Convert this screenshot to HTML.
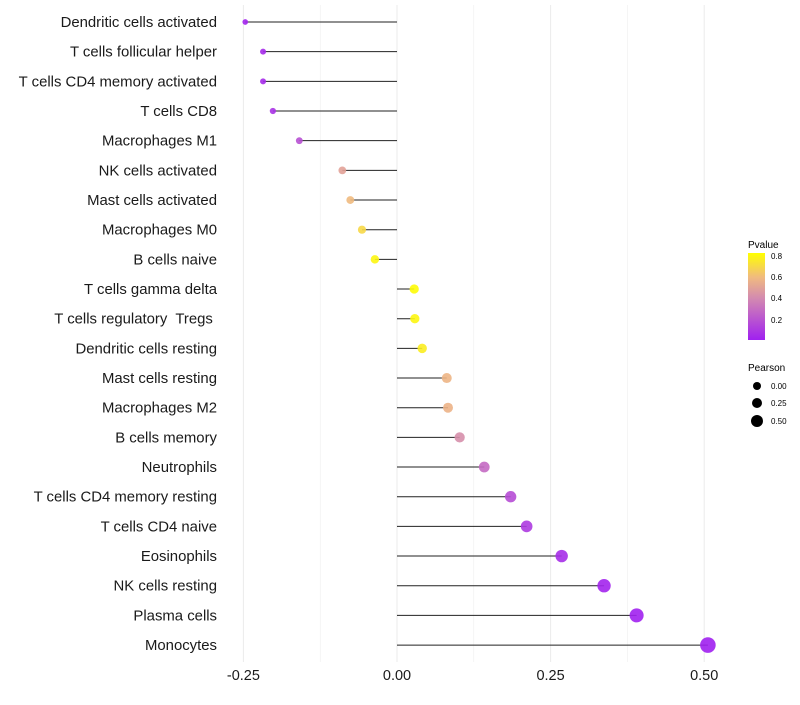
<!DOCTYPE html>
<html><head><meta charset="utf-8"><style>
body{margin:0;background:#fff;font-family:"Liberation Sans",sans-serif;}
text{white-space:pre;}
</style></head><body>
<svg id="chart" width="800" height="700" xmlns="http://www.w3.org/2000/svg" font-family="Liberation Sans, sans-serif">
<defs><linearGradient id="pg" x1="0" y1="1" x2="0" y2="0">
<stop offset="0" stop-color="#A020F0"/><stop offset="0.48" stop-color="#D38AB0"/><stop offset="0.72" stop-color="#F0BA80"/><stop offset="1" stop-color="#FFFF00"/></linearGradient></defs>
<g id="grid"></g><g id="marks"></g><g id="labels"></g>
<g>
<text x="748" y="248" font-size="10">Pvalue</text>
<rect x="748" y="253" width="17" height="87" fill="url(#pg)"/>
<text x="771" y="259" font-size="8">0.8</text><text x="771" y="280" font-size="8">0.6</text>
<text x="771" y="301" font-size="8">0.4</text><text x="771" y="323" font-size="8">0.2</text>
</g>
<g>
<text x="748" y="371" font-size="10">Pearson</text>
<circle cx="757" cy="386" r="4"/><text x="771" y="389" font-size="8">0.00</text>
<circle cx="757" cy="403" r="5"/><text x="771" y="406" font-size="8">0.25</text>
<circle cx="757" cy="421" r="6"/><text x="771" y="424" font-size="8">0.50</text>
</g>
</svg>
<script>
const cells=["Dendritic cells activated","T cells follicular helper","T cells CD4 memory activated","T cells CD8","Macrophages M1","NK cells activated","Mast cells activated","Macrophages M0","B cells naive","T cells gamma delta","T cells regulatory  Tregs ","Dendritic cells resting","Mast cells resting","Macrophages M2","B cells memory","Neutrophils","T cells CD4 memory resting","T cells CD4 naive","Eosinophils","NK cells resting","Plasma cells","Monocytes"];
const pearson=[-0.247,-0.218,-0.218,-0.202,-0.159,-0.089,-0.076,-0.057,-0.036,0.028,0.029,0.041,0.081,0.083,0.102,0.142,0.185,0.211,0.268,0.337,0.390,0.506];
const pvalue=[0.02,0.04,0.04,0.07,0.18,0.5,0.6,0.7,0.8,0.82,0.8,0.77,0.58,0.57,0.42,0.28,0.17,0.1,0.05,0.02,0.005,0.001];
const xTicks=[-0.25,0,0.25,0.5];
const xTickLabels=["-0.25","0.00","0.25","0.50"];
const NS="http://www.w3.org/2000/svg";
const X=v=>397+v*614.4;
const Y=i=>22+i*29.67;
const R=v=>2.8+(v+0.25)*6.6;
const stops=[[0,[160,32,240]],[0.4,[211,138,176]],[0.6,[240,186,128]],[0.83,[255,255,0]]];
function col(p){p=Math.max(0,Math.min(0.83,p));for(let i=1;i<stops.length;i++){if(p<=stops[i][0]){const a=stops[i-1],b=stops[i],t=(p-a[0])/(b[0]-a[0]);return "rgb("+a[1].map((c,k)=>Math.round(c+(b[1][k]-c)*t)).join(",")+")";}}return "rgb(255,255,0)";}
function mk(t,a,p){const e=document.createElementNS(NS,t);for(const k in a)e.setAttribute(k,a[k]);p.appendChild(e);return e;}
const grid=document.getElementById('grid'),marks=document.getElementById('marks'),labels=document.getElementById('labels');
for(let v=-0.25;v<=0.51;v+=0.125){const g=mk('line',{x1:X(v),x2:X(v),y1:5,y2:662,stroke:'#ebebeb','stroke-width':Math.abs(v*4-Math.round(v*4))<1e-6?1:0.5},grid);

}
xTicks.forEach((v,i)=>{const t=mk('text',{x:X(v),y:680,'font-size':14.5,'text-anchor':'middle',fill:'#1a1a1a'},labels);t.textContent=xTickLabels[i];

});
cells.forEach((c,i)=>{const t=mk('text',{x:217,y:Y(i)+5,'font-size':14.9,'text-anchor':'end',fill:'#1a1a1a'},labels);t.textContent=c;


const l=mk('line',{x1:X(0),x2:X(pearson[i]),y1:Y(i),y2:Y(i),stroke:'#222','stroke-width':1},marks);


const d=mk('circle',{cx:X(pearson[i]),cy:Y(i),r:R(pearson[i]),fill:col(pvalue[i]),'fill-opacity':0.9},marks);

});
</script>
</body></html>
